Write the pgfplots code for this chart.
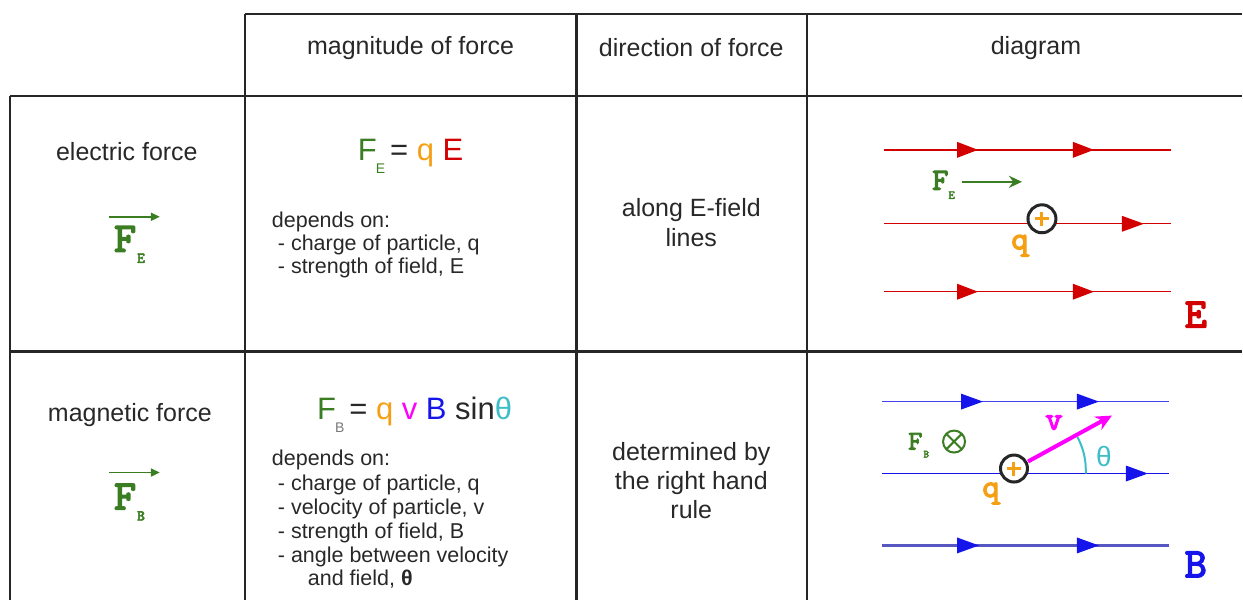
\documentclass[border=0pt]{standalone}
\usepackage{fontspec}
\setmainfont{Liberation Sans}
\newfontfamily\cour{lmmono10-regular.otf}[FakeBold=3.5]
\usepackage{pgfplots}
\pgfplotsset{compat=1.18}
\usetikzlibrary{arrows.meta,plotmarks}

\definecolor{fgreen}{RGB}{58,125,34}
\definecolor{fred}{RGB}{210,0,0}
\definecolor{forange}{RGB}{245,160,20}
\definecolor{fmag}{RGB}{255,0,255}
\definecolor{fblue}{RGB}{20,20,235}
\definecolor{fcyan}{RGB}{60,190,200}
\definecolor{fgray}{RGB}{120,120,120}
\definecolor{ftext}{RGB}{40,40,40}

\newcommand\fs[2]{\fontsize{#1}{#2}\selectfont}

\begin{document}
\begin{tikzpicture}
\tikzset{every node/.style={inner sep=0pt, text=ftext}}
\begin{axis}[
  scale only axis, width=1243pt, height=601pt,
  xmin=0, xmax=1243, ymin=0, ymax=601, y dir=reverse,
  hide axis, clip=false,
  tl/.style={draw=black!85, line width=2.5pt}]

% page frame (invisible)
\addplot[draw=none] coordinates {(0,0) (1243,601)};

% table grid
\addplot[tl] coordinates {(245,14) (1243,14)};
\addplot[tl] coordinates {(10,96) (1243,96)};
\addplot[tl] coordinates {(10,352) (1243,352)};
\addplot[tl] coordinates {(10,96) (10,601)};
\addplot[tl] coordinates {(245,14) (245,601)};
\addplot[tl] coordinates {(577,14) (577,601)};
\addplot[tl] coordinates {(808,14) (808,601)};

% header
\node[font=\fs{25}{29}] at (axis cs:411,48) {magnitude of force};
\node[font=\fs{25}{29}] at (axis cs:692,48) {direction of force};
\node[font=\fs{25}{29}] at (axis cs:1037,48) {diagram};

% row labels
\node[font=\fs{25}{29}] at (axis cs:127,152) {electric force};
\node[font=\fs{25}{29}] at (axis cs:130,415) {magnetic force};

\addplot[fgreen, line width=1.8pt, -{Triangle[length=9pt,width=8pt]}] coordinates {(109,217) (160,217)};
\node[anchor=base west, text=fgreen] at (axis cs:114,252)
  {{\cour\fs{42}{42}F}\kern1pt\raisebox{-11pt}{\cour\fs{15}{15}E}};
\addplot[fgreen, line width=1.8pt, -{Triangle[length=9pt,width=8pt]}] coordinates {(109,473) (160,473)};
\node[anchor=base west, text=fgreen] at (axis cs:114,510)
  {{\cour\fs{42}{42}F}\kern1pt\raisebox{-11pt}{\cour\fs{15}{15}B}};

% magnitude column
\node[anchor=base] at (axis cs:411,161)
  {\fs{31}{31}\textcolor{fgreen}{F}\kern-1pt\raisebox{-13pt}{\fs{14}{14}\textcolor{fgreen}{E}}\hspace{5pt}=
   \textcolor{forange}{q} \textcolor{fred}{E}};
\node[anchor=base west, font=\fs{21.5}{24}] at (axis cs:272,228) {depends on:};
\node[anchor=base west, font=\fs{21.5}{24}] at (axis cs:278,251) {- charge of particle, q};
\node[anchor=base west, font=\fs{21.5}{24}] at (axis cs:278,274) {- strength of field, E};

\node[anchor=base] at (axis cs:415,420)
  {\fs{31}{31}\textcolor{fgreen}{F}\kern-1pt\raisebox{-13pt}{\fs{14}{14}\textcolor{fgray}{B}}\hspace{5pt}=
   \textcolor{forange}{q} \textcolor{fmag}{v} \textcolor{fblue}{B} sin\textcolor{fcyan}{θ}};
\node[anchor=base west, font=\fs{21.5}{24}] at (axis cs:272,466) {depends on:};
\node[anchor=base west, font=\fs{21.5}{24}] at (axis cs:278,491) {- charge of particle, q};
\node[anchor=base west, font=\fs{21.5}{24}] at (axis cs:278,515) {- velocity of particle, v};
\node[anchor=base west, font=\fs{21.5}{24}] at (axis cs:278,539) {- strength of field, B};
\node[anchor=base west, font=\fs{21.5}{24}] at (axis cs:278,563) {- angle between velocity};
\node[anchor=base west, font=\fs{21.5}{24}] at (axis cs:308,586) {and field, \textbf{θ}};

% direction column
\node[align=center, font=\fs{25}{30}] at (axis cs:692,223) {along E-field\\lines};
\node[align=center, font=\fs{25}{29}] at (axis cs:692,481) {determined by\\the right hand\\rule};

% ---- electric field diagram
\addplot[fred, line width=1.3pt] coordinates {(885,150) (1172,150)};
\addplot[fred, line width=1.3pt] coordinates {(885,224) (1172,224)};
\addplot[fred, line width=1.3pt] coordinates {(885,292) (1172,292)};
\addplot[fill=fred, draw=none] coordinates {(958,142) (979,150) (958,158)};
\addplot[fill=fred, draw=none] coordinates {(1074,142) (1095,150) (1074,158)};
\addplot[fill=fred, draw=none] coordinates {(1123,216) (1145,224) (1123,232)};
\addplot[fill=fred, draw=none] coordinates {(958,284) (979,292) (958,300)};
\addplot[fill=fred, draw=none] coordinates {(1074,284) (1095,292) (1074,300)};

\addplot[fgreen, line width=2.5pt, -{Stealth[length=13pt,width=12pt]}] coordinates {(963,182) (1023,182)};
\node[anchor=base west, text=fgreen] at (axis cs:933,190)
  {{\cour\fs{31}{31}F}\kern0pt\raisebox{-9pt}{\cour\fs{12}{12}E}};

\addplot[only marks, mark=*, mark size=14pt, mark options={draw=black!85, fill=white, line width=3pt}] coordinates {(1043,219)};
\addplot[only marks, mark=+, mark size=7pt, mark options={draw=forange, line width=3pt}] coordinates {(1043,219)};
\node[text=forange, font=\cour\fs{33}{33}] at (axis cs:1021,246) {q};
\node[text=fred, font=\cour\fs{42}{42}] at (axis cs:1197,315) {E};

% ---- magnetic field diagram
\addplot[fblue!80, line width=1.3pt] coordinates {(883,402) (1170,402)};
\addplot[fblue, line width=1.3pt] coordinates {(883,474) (1170,474)};
\addplot[fblue!55!gray!90, line width=2.5pt] coordinates {(883,546) (1170,546)};
\addplot[fill=fblue, draw=none] coordinates {(962,394) (984,402) (962,410)};
\addplot[fill=fblue, draw=none] coordinates {(1078,394) (1100,402) (1078,410)};
\addplot[fill=fblue, draw=none] coordinates {(1127,466) (1149,474) (1127,482)};
\addplot[fill=fblue, draw=none] coordinates {(958,538) (980,546) (958,554)};
\addplot[fill=fblue, draw=none] coordinates {(1078,538) (1100,546) (1078,554)};

\addplot[fcyan, line width=2pt, smooth] coordinates
  {(1087,474) (1086.5,463) (1084.9,454) (1082.2,445.5) (1078.6,437.5)};
\addplot[fmag, line width=4pt, -{Stealth[length=16pt,width=15pt]}] coordinates {(1029,462) (1113,416)};
\addplot[only marks, mark=*, mark size=13.5pt, mark options={draw=black!85, fill=white, line width=3pt}] coordinates {(1015,469)};
\addplot[only marks, mark=+, mark size=7pt, mark options={draw=forange, line width=3pt}] coordinates {(1015,469)};

\node[anchor=base west, text=fgreen] at (axis cs:909,450)
  {{\cour\fs{27}{27}F}\kern1pt\raisebox{-8pt}{\cour\fs{11}{11}B}};
\addplot[only marks, mark=otimes, mark size=11pt, mark options={draw=fgreen, line width=2pt}] coordinates {(955,442)};
\node[text=forange, font=\cour\fs{33}{33}] at (axis cs:992,494) {q};
\node[text=fmag, font=\cour\fs{33}{33}] at (axis cs:1055,423) {v};
\node[text=fcyan, font=\fs{28}{28}] at (axis cs:1105,457) {θ};
\node[text=fblue, font=\cour\fs{42}{42}] at (axis cs:1197,565) {B};

\end{axis}
\end{tikzpicture}
\end{document}
